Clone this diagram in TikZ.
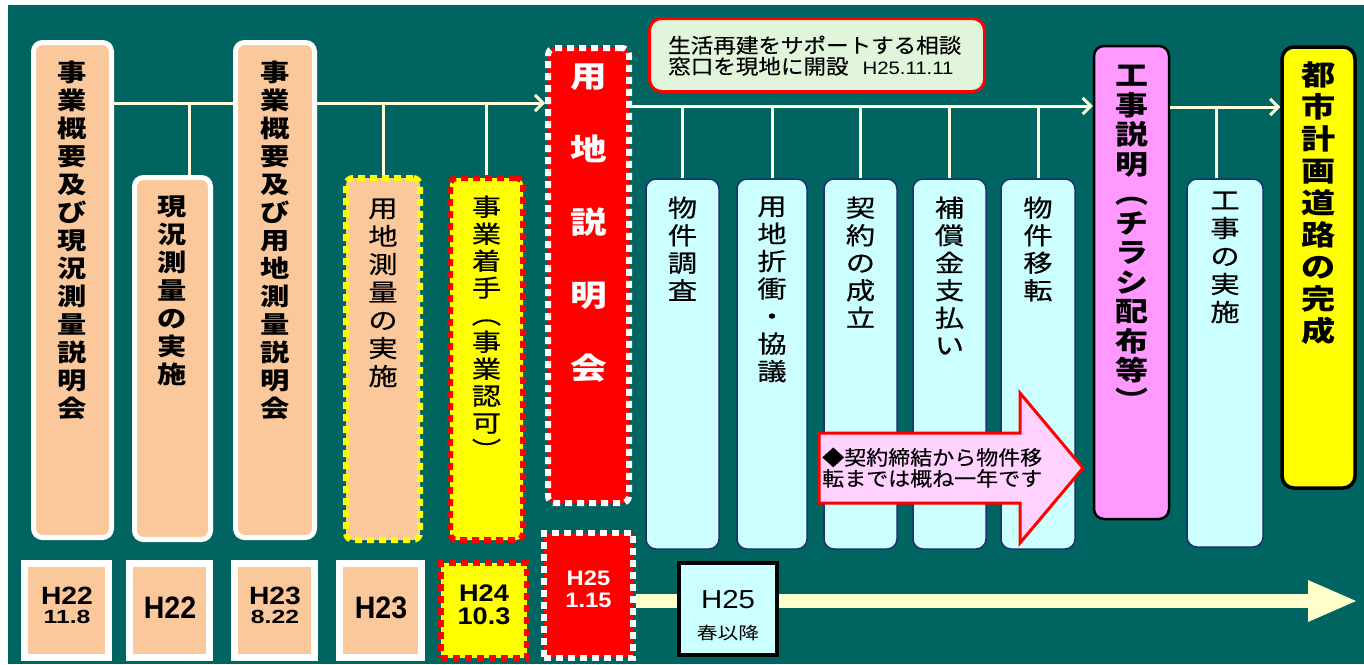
\documentclass[tikz,border=0pt]{standalone}
\usepackage{fontspec}
\setmainfont{Liberation Sans}
\newfontfamily\jpw{Noto Sans CJK JP}[FakeStretch=1.22]
\newfontfamily\jpm{Noto Sans CJK JP}[FakeStretch=1.22,FakeBold=0.5]
\newfontfamily\jpn{Noto Sans CJK JP}[FakeStretch=1.1,FakeBold=0.3]
\newfontfamily\latw{Liberation Sans}[FakeStretch=1.13]
\newfontfamily\latn{Liberation Sans}[FakeStretch=0.92]
\usetikzlibrary{arrows.meta}
\definecolor{tealbg}{HTML}{006461}
\definecolor{peachc}{HTML}{FAC89B}
\definecolor{lblue}{HTML}{CCFFFF}
\definecolor{navyb}{HTML}{1F2F6F}
\definecolor{pinkc}{HTML}{FF99FF}
\definecolor{calloutc}{HTML}{FFD2FF}
\definecolor{greenc}{HTML}{E0F5DA}
\definecolor{creamA}{HTML}{FFFFCC}
\definecolor{creamL}{HTML}{FFFFE0}
\definecolor{redc}{HTML}{FF0000}
\definecolor{yellowc}{HTML}{FFFF00}
\begin{document}
\begin{tikzpicture}[x=1pt,y=-1pt,
  peach/.style={rectangle, rounded corners=9pt, fill=peachc, draw=white, line width=5pt, inner sep=0pt},
  datebox/.style={rectangle, fill=peachc, draw=white, line width=7pt, inner sep=0pt},
  dotbox/.style={rectangle, rounded corners=7pt, line width=6pt, dash pattern=on 7pt off 5pt, inner sep=0pt},
  bluebox/.style={rectangle, rounded corners=10pt, fill=lblue, draw=navyb, line width=1.5pt, inner sep=0pt},
  vt/.style={anchor=north, align=center, inner sep=0pt, text=black},
  conn/.style={draw=creamL, line width=3pt},
  arr/.style={conn, -{Straight Barb[length=8pt,width=16pt]}},
  bigarr/.style={draw=creamA, line width=14pt, -{Triangle[length=48pt,width=42pt,line width=0pt]}},
  callout/.style={draw=redc, fill=calloutc, line width=3pt, line join=miter},
  dtext/.style={anchor=base, inner sep=0pt},
  dstack/.style={anchor=north, align=center, inner sep=0pt},
  ltext/.style={anchor=base west, inner sep=0pt},
]
\useasboundingbox (0,0) rectangle (1364,664);
\fill[white] (0,0) rectangle (1364,664);
\fill[tealbg] (8,5) rectangle (1364,664);

% ---- top row boxes
\node[peach, minimum width=78pt, minimum height=495pt] (b1) at (72.5,290) {};
\node[peach, minimum width=76pt, minimum height=362pt] (b2) at (172.5,358.5) {};
\node[peach, minimum width=79pt, minimum height=495pt] (b3) at (275,290) {};
\node[dotbox, fill=peachc, draw=yellowc, minimum width=74pt, minimum height=362pt] (b4) at (383,359) {};
\node[dotbox, fill=yellowc, draw=redc, minimum width=73pt, minimum height=362pt] (b5) at (486.5,359) {};
\node[dotbox, fill=redc, draw=white, minimum width=81pt, minimum height=455pt] (b6) at (588.5,275.5) {};

\node[vt, font=\jpw\bfseries\fontsize{24}{28}\selectfont] (t1) at (72.5,60.5) {事\\業\\概\\要\\及\\び\\現\\況\\測\\量\\説\\明\\会};
\node[vt, font=\jpw\bfseries\fontsize{24}{28}\selectfont] (t2) at (172,195.5) {現\\況\\測\\量\\の\\実\\施};
\node[vt, font=\jpw\bfseries\fontsize{24}{28}\selectfont] (t3) at (275,60.5) {事\\業\\概\\要\\及\\び\\用\\地\\測\\量\\説\\明\\会};
\node[vt, font=\jpm\fontsize{24}{28}\selectfont] (t4) at (383,198.5) {用\\地\\測\\量\\の\\実\\施};
\node[vt, font=\jpm\fontsize{24}{27}\selectfont] (t5) at (486.5,195.5) {事\\業\\着\\手\\︵\\事\\業\\認\\可\\︶};
\node[vt, text=white, font=\jpw\bfseries\fontsize{30}{73}\selectfont] (t6) at (588.5,63.5) {用\\地\\説\\明\\会};

% ---- green info box
\node[rectangle, rounded corners=12pt, fill=greenc, draw=redc, line width=3pt, minimum width=335pt, minimum height=73pt] (gr) at (817,55) {};
\node[ltext, font=\jpn\fontsize{20.5}{22}\selectfont] (gt1) at (668,53) {生活再建をサポートする相談};
\node[ltext, font=\jpn\fontsize{20.5}{22}\selectfont] (gt2) at (668,74) {窓口を現地に開設\hspace{14pt}{\latw\fontsize{18}{18}\selectfont H25.11.11}};

% ---- blue boxes
\node[bluebox, minimum width=73pt, minimum height=370pt] (bl1) at (682.5,364) {};
\node[bluebox, minimum width=70pt, minimum height=370pt] (bl2) at (772,364) {};
\node[bluebox, minimum width=73pt, minimum height=370pt] (bl3) at (860.5,364) {};
\node[bluebox, minimum width=73pt, minimum height=370pt] (bl4) at (949.5,364) {};
\node[bluebox, minimum width=74pt, minimum height=370pt] (bl5) at (1038,364) {};
\node[bluebox, minimum width=76pt, minimum height=368pt] (bl6) at (1225,363) {};

\node[vt, font=\jpm\fontsize{24}{27.5}\selectfont] (u1) at (682.5,196.5) {物\\件\\調\\査};
\node[vt, font=\jpm\fontsize{24}{27.5}\selectfont] (u2) at (772,196.5) {用\\地\\折\\衝\\・\\協\\議};
\node[vt, font=\jpm\fontsize{24}{27.5}\selectfont] (u3) at (860.5,196.5) {契\\約\\の\\成\\立};
\node[vt, font=\jpm\fontsize{24}{27.5}\selectfont] (u4) at (949.5,196.5) {補\\償\\金\\支\\払\\い};
\node[vt, font=\jpm\fontsize{24}{27.5}\selectfont] (u5) at (1038,196.5) {物\\件\\移\\転};
\node[vt, font=\jpm\fontsize{24}{28}\selectfont] (u6) at (1225,191.5) {工\\事\\の\\実\\施};

% ---- pink and yellow boxes
\node[rectangle, rounded corners=10pt, fill=pinkc, draw=black, line width=2.5pt, minimum width=75pt, minimum height=473pt, inner sep=0pt] (pk) at (1131.5,282.5) {};
\node[vt, font=\jpw\bfseries\fontsize{27}{29.5}\selectfont] (pt) at (1131.5,65) {工\\事\\説\\明\\︵\\チ\\ラ\\シ\\配\\布\\等\\︶};
\node[rectangle, rounded corners=12pt, fill=yellowc, draw=black, line width=3.5pt, minimum width=73pt, minimum height=441pt, inner sep=0pt] (yl) at (1318.5,267.5) {};
\node[vt, font=\jpw\bfseries\fontsize{28}{32}\selectfont] (yt) at (1318.5,61.5) {都\\市\\計\\画\\道\\路\\の\\完\\成};

% ---- connectors
\coordinate (l1) at (0,103);
\coordinate (l2) at (0,106);
\coordinate (l3) at (0,107);
\draw[conn] (b1.east|-l1) -- (b3.west|-l1);
\draw[arr] (b3.east|-l1) -- (b6.west|-l1);
\draw[conn] ([xshift=16.5pt]b2.north) -- ([xshift=16.5pt]b2.north|-l1);
\draw[conn] (b4.north) -- (b4.north|-l1);
\draw[conn] (b5.north) -- (b5.north|-l1);
\draw[arr] (b6.east|-l2) -- (pk.west|-l2);
\foreach \n in {bl1,bl2,bl3,bl4,bl5} {\draw[conn] (\n.north) -- (\n.north|-l2);}
\draw[arr] (pk.east|-l3) -- (yl.west|-l3);
\draw[conn] ([xshift=-9pt]bl6.north) -- ([xshift=-9pt]bl6.north|-l3);

% ---- callout arrow
\draw[callout] (819,433) -- (1020,433) -- (1020,393) -- (1083,468) -- (1020,543) -- (1020,503) -- (819,503) -- cycle;
\node[ltext, font=\jpn\fontsize{20}{22}\selectfont] (ct1) at (822,465) {◆契約締結から物件移};
\node[ltext, font=\jpn\fontsize{20}{22}\selectfont] (ct2) at (822,486) {転までは概ね一年です};

% ---- bottom date boxes
\node[datebox, minimum width=84pt, minimum height=94pt] (bb1) at (66.5,610.5) {};
\node[datebox, minimum width=80pt, minimum height=94pt] (bb2) at (169.5,610.5) {};
\node[datebox, minimum width=80pt, minimum height=94pt] (bb3) at (274.5,610.5) {};
\node[datebox, minimum width=82pt, minimum height=94pt] (bb4) at (380.5,610.5) {};
\node[dotbox, rounded corners=0pt, fill=yellowc, draw=redc, minimum width=86pt, minimum height=95pt] (bb5) at (484,610.5) {};
\node[dotbox, rounded corners=0pt, fill=redc, draw=white, minimum width=89pt, minimum height=125pt] (bb6) at (588.5,595.5) {};

\coordinate (tip) at (1356,601);
\draw[bigarr] (bb6.east|-tip) -- (tip);

\node[rectangle, fill=lblue, draw=black, line width=3.5pt, minimum width=98pt, minimum height=92pt, inner sep=0pt] (bb7) at (728,609) {};

\node[dstack, font=\latw\bfseries\fontsize{25}{19}\selectfont] (d1) at (67,587) {H22\\{\fontsize{19}{19}\selectfont\scalebox{1.15}[1]{11.8}}};
\node[dtext, font=\latn\bfseries\fontsize{31}{31}\selectfont] (d2) at (170,618) {H22};
\node[dstack, font=\latw\bfseries\fontsize{25}{19}\selectfont] (d3) at (275,587) {H23\\{\fontsize{19}{19}\selectfont\scalebox{1.15}[1]{8.22}}};
\node[dtext, font=\latn\bfseries\fontsize{31}{31}\selectfont] (d4) at (381,618) {H23};
\node[dstack, font=\latw\bfseries\fontsize{24}{23}\selectfont] (d5) at (484,585) {H24\\10.3};
\node[dstack, text=white, font=\latw\bfseries\fontsize{21}{22}\selectfont] (d6) at (588.5,571) {H25\\1.15};
\node[dtext, font=\latw\fontsize{26}{26}\selectfont] (d7a) at (728,608) {H25};
\node[dtext, font=\jpw\fontsize{17}{17}\selectfont] (d7b) at (728,639) {春以降};
\end{tikzpicture}
\end{document}
